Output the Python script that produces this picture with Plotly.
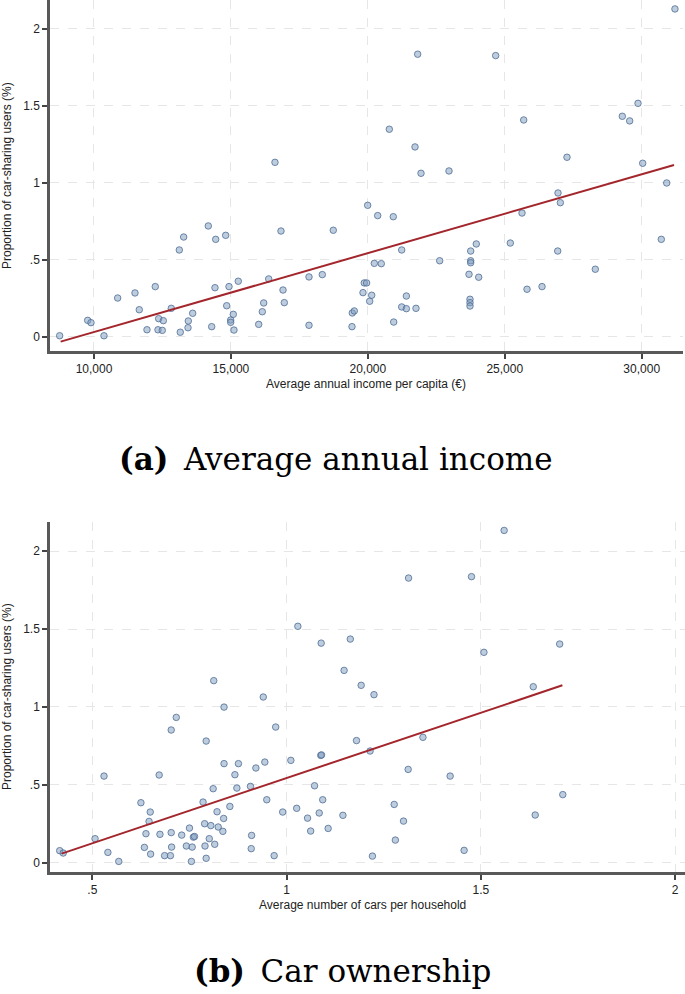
import plotly.graph_objects as go

W, H = 685, 994

# ---------------- Data: panel (a) ----------------
income_x = [16609, 21820, 24668, 31214, 20784, 21722, 21941, 22963, 25691, 29865,
            29292, 29561, 27272, 30036, 30913, 26944, 14174, 13275, 13115, 14444,
            14809, 16828, 18738, 8747, 9770, 9890, 10365, 10865, 11497, 11654,
            11935, 12238, 12337, 12362, 12531, 12494, 12823, 13151, 13433, 13444,
            13604, 14298, 14418, 14846, 14930, 14992, 14992, 15087, 15112, 15269,
            16014, 16146, 16197, 16380, 16902, 16950, 17851, 17851, 18337, 19994,
            20360, 20929, 21236, 20236, 20491, 22624, 19870, 19955, 19823, 20141,
            20068, 21406, 21236, 21406, 21758, 19432, 19505, 19421, 20944, 23755,
            23960, 23755, 23755, 23694, 24048, 23730, 23730, 23730, 25202, 25629,
            25812, 26360, 26933, 27029, 28306, 30716]
share_a = [1.134, 1.836, 1.827, 2.13, 1.349, 1.234, 1.063, 1.078, 1.409, 1.517,
           1.433, 1.403, 1.167, 1.128, 1.0, 0.935, 0.721, 0.649, 0.565, 0.634,
           0.660, 0.688, 0.693, 0.008, 0.108, 0.093, 0.008, 0.253, 0.286, 0.177,
           0.047, 0.327, 0.047, 0.119, 0.106, 0.043, 0.186, 0.031, 0.060, 0.104,
           0.154, 0.067, 0.320, 0.203, 0.327, 0.110, 0.095, 0.147, 0.045, 0.362,
           0.082, 0.164, 0.221, 0.377, 0.305, 0.223, 0.390, 0.076, 0.405, 0.855,
           0.788, 0.781, 0.565, 0.478, 0.476, 0.495, 0.351, 0.351, 0.288, 0.271,
           0.232, 0.266, 0.195, 0.184, 0.186, 0.156, 0.169, 0.067, 0.097, 0.558,
           0.604, 0.495, 0.482, 0.407, 0.388, 0.245, 0.223, 0.201, 0.610, 0.805,
           0.310, 0.327, 0.558, 0.872, 0.440, 0.634]
fit_a_x = [8783, 31180]
fit_a_y = [-0.03, 1.117]

# ---------------- Data: panel (b) ----------------
cars_x = [0.8125, 0.839, 0.940, 1.029, 1.089, 1.148, 1.560, 1.314, 1.476, 1.164,
          1.192, 1.225, 1.508, 1.703, 1.635, 0.716, 0.703, 0.972, 0.793, 0.530,
          0.672, 0.839, 0.876, 0.867, 0.921, 0.944, 1.011, 1.088, 1.090, 0.811,
          0.872, 0.907, 1.072, 0.625, 0.785, 0.949, 1.093, 0.649, 0.821, 0.854,
          0.990, 1.026, 1.084, 1.145, 0.646, 0.838, 1.054, 0.789, 0.805, 0.750,
          0.824, 0.836, 1.062, 1.107, 0.638, 0.674, 0.703, 0.730, 0.760, 0.763,
          0.801, 0.910, 0.507, 0.634, 0.704, 0.742, 0.757, 0.790, 0.815, 0.909,
          0.540, 0.650, 0.686, 0.701, 0.968, 0.755, 0.568, 0.793, 0.416, 0.425,
          1.180, 1.215, 1.351, 1.313, 1.421, 1.711, 1.640, 1.277, 1.301, 1.280,
          1.221, 1.457]
share_b = [1.169, 0.999, 1.064, 1.518, 1.410, 1.235, 2.134, 1.828, 1.837, 1.436,
           1.139, 1.079, 1.351, 1.404, 1.130, 0.933, 0.852, 0.871, 0.781, 0.556,
           0.563, 0.636, 0.636, 0.565, 0.608, 0.646, 0.657, 0.689, 0.692, 0.475,
           0.479, 0.490, 0.494, 0.385, 0.389, 0.404, 0.404, 0.325, 0.327, 0.361,
           0.325, 0.349, 0.319, 0.304, 0.265, 0.284, 0.286, 0.250, 0.238, 0.222,
           0.229, 0.201, 0.203, 0.220, 0.186, 0.182, 0.193, 0.177, 0.164, 0.168,
           0.154, 0.175, 0.154, 0.098, 0.100, 0.107, 0.100, 0.107, 0.118, 0.090,
           0.066, 0.055, 0.045, 0.045, 0.045, 0.008, 0.008, 0.028, 0.077, 0.062,
           0.784, 0.717, 0.805, 0.599, 0.556, 0.437, 0.306, 0.374, 0.267, 0.145,
           0.042, 0.079]
fit_b_x = [0.421, 1.71]
fit_b_y = [0.058, 1.139]

# ---------------- Tick labels ----------------
y_tickvals = [0, 0.5, 1, 1.5, 2]
y_ticktext = ["0", ".5", "1", "1.5", "2"]
xa_tickvals = [10000, 15000, 20000, 25000, 30000]
xa_ticktext = ["10,000", "15,000", "20,000", "25,000", "30,000"]
xb_tickvals = [0.5, 1, 1.5, 2]
xb_ticktext = [".5", "1", "1.5", "2"]

MARK = dict(size=6.5, color="rgba(125,155,190,0.5)",
            line=dict(color="rgba(80,110,150,0.8)", width=1))
LINE = dict(color="#a3262c", width=2)

fig = go.Figure()
fig.add_trace(go.Scatter(x=income_x, y=share_a, mode="markers", marker=MARK,
                         xaxis="x", yaxis="y", showlegend=False))
fig.add_trace(go.Scatter(x=fit_a_x, y=fit_a_y, mode="lines", line=LINE,
                         xaxis="x", yaxis="y", showlegend=False))
fig.add_trace(go.Scatter(x=cars_x, y=share_b, mode="markers", marker=MARK,
                         xaxis="x2", yaxis="y2", showlegend=False))
fig.add_trace(go.Scatter(x=fit_b_x, y=fit_b_y, mode="lines", line=LINE,
                         xaxis="x2", yaxis="y2", showlegend=False))

TICKFONT = dict(family="Liberation Sans, Arial, sans-serif", size=12, color="#222")
common = dict(showline=True, linecolor="#595959", linewidth=2.5,
              ticks="outside", ticklen=5, tickwidth=1.5, tickcolor="#444",
              showgrid=True, gridcolor="#e6e6e6", gridwidth=1.3, griddash="dash",
              zeroline=False, tickfont=TICKFONT, fixedrange=True)

def px_x(p):
    return p / W

def px_y(p):
    return 1 - p / H

fig.update_layout(
    width=W, height=H, margin=dict(l=0, r=0, t=0, b=0),
    paper_bgcolor="white", plot_bgcolor="white",
    xaxis=dict(domain=[px_x(50), px_x(683)], range=[8394, 31508], anchor="y",
               tickmode="array", tickvals=xa_tickvals, ticktext=xa_ticktext, **common),
    yaxis=dict(domain=[px_y(351), 1], range=[-0.091, 2.188], anchor="x",
               tickmode="array", tickvals=y_tickvals, ticktext=y_ticktext, **common),
    xaxis2=dict(domain=[px_x(50), px_x(685)], range=[0.391, 2.0256], anchor="y2",
                tickmode="array", tickvals=xb_tickvals, ticktext=xb_ticktext, **common),
    yaxis2=dict(domain=[px_y(872), px_y(522)], range=[-0.060, 2.188], anchor="x2",
                tickmode="array", tickvals=y_tickvals, ticktext=y_ticktext, **common),
)

TITLEFONT = dict(family="Liberation Sans, Arial, sans-serif", size=12, color="#222")
CAPFONT = dict(family="DejaVu Serif, serif", size=31, color="black")

annos = [
    dict(text="Proportion of car-sharing users (%)", x=px_x(7), y=px_y(176),
         textangle=-90, font=TITLEFONT),
    dict(text="Average annual income per capita (€)", x=px_x(366), y=px_y(384),
         font=TITLEFONT),
    dict(text="Proportion of car-sharing users (%)", x=px_x(7), y=px_y(697),
         textangle=-90, font=TITLEFONT),
    dict(text="Average number of cars per household", x=px_x(362), y=px_y(905),
         font=TITLEFONT),
    dict(text="<b>(a)</b>\u2002Average annual income", x=px_x(336), y=px_y(459),
         font=CAPFONT),
    dict(text="<b>(b)</b>\u2002Car ownership", x=px_x(342), y=px_y(971),
         font=CAPFONT),
]
for a in annos:
    a.update(xref="paper", yref="paper", showarrow=False, xanchor="center", yanchor="middle")
fig.update_layout(annotations=annos)

fig.write_html("out.html", config={"displayModeBar": False},
               post_script="document.body.style.margin='0px';document.body.style.overflow='hidden';")
